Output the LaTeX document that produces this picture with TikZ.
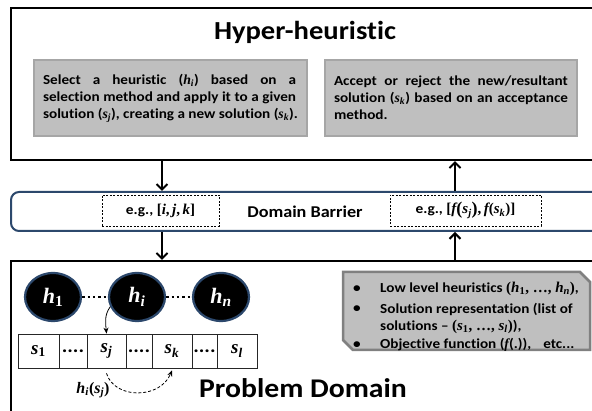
\documentclass[tikz,border=0pt]{standalone}
\usepackage{fontspec}
\setmainfont{Carlito}[FakeStretch=1.1,Ligatures=NoCommon]
\newfontfamily\mfnt{Liberation Serif}
\usetikzlibrary{arrows.meta,shapes.geometric}
\definecolor{gfill}{RGB}{191,191,191}
\definecolor{gline}{RGB}{166,166,166}
\definecolor{bline}{RGB}{128,128,128}
\definecolor{navy}{RGB}{44,72,108}
\newcommand{\justline}[2]{\makebox[#1][s]{#2}}
\newcommand{\xmi}[1]{{\mfnt\bfseries\itshape #1}}
\newcommand{\xmr}[1]{{\mfnt\bfseries #1}}
\newcommand{\xsub}[2]{\xmi{#1}\textsubscript{\xmi{#2}}}
\newcommand{\xsubd}[2]{\xmi{#1}\textsubscript{\xmr{#2}}}
\begin{document}
\begin{tikzpicture}[x=1pt,y=1pt,
  container/.style={draw=black, line width=2.2pt, fill=white, inner sep=0pt},
  graybox/.style={fill=gfill, draw=gline, line width=2pt, inner xsep=9pt, inner ysep=0pt, align=left, minimum height=76pt, font=\fontsize{13.8}{17}\selectfont\bfseries},
  dbox/.style={draw=black, line width=0.7pt, dash pattern=on 2pt off 1.5pt, minimum height=31pt, inner sep=0pt, font=\fontsize{14}{16}\selectfont\bfseries},
  arr/.style={line width=2pt, -{Straight Barb[length=5.5pt,width=11pt]}},
  hnode/.style={ellipse, fill=black, draw=navy, line width=2.2pt, minimum width=56pt, minimum height=48pt, inner sep=0pt, text=white, font=\fontsize{22}{24}\selectfont},
  dotline/.style={line width=2.4pt, dash pattern=on 2.4pt off 3pt},
  cell/.style={draw=black!85, line width=0.8pt, minimum height=34pt, inner sep=0pt, font=\fontsize{19}{20}\selectfont\bfseries},
  thinarr/.style={line width=0.8pt, -{Stealth[length=6pt,width=5pt]}},
  dasharr/.style={line width=0.8pt, dash pattern=on 3pt off 2pt, -{Stealth[length=6pt,width=5pt]}},
  btext/.style={font=\fontsize{13.8}{16}\selectfont\bfseries, inner sep=0pt}
]
\useasboundingbox (0,0) rectangle (592,411);
\fill[white] (0,0) rectangle (592,411);
\clip (0,0) rectangle (592,411);

% Hyper-heuristic container
\node[container, minimum width=594pt, minimum height=152pt] (hyper) at (308,327) {};
\node[font=\fontsize{26}{30}\selectfont\bfseries] (title) at (305,379) {Hyper-heuristic};
\node[graybox, minimum width=271pt] (selbox) at (170.5,313)
  {\justline{253pt}{Select a heuristic (\xsub{h}{i}) based on a}\\
   \justline{253pt}{selection method and apply it to a given}\\
   solution (\xsub{s}{j}), creating a new solution (\xsub{s}{k}).};
\node[graybox, minimum width=252pt] (accbox) at (451,313)
  {\justline{234pt}{Accept or reject the new/resultant}\\
   \justline{234pt}{solution (\xsub{s}{k}) based on an acceptance}\\
   method.};

% Domain barrier
\node[draw=navy, line width=2pt, rounded corners=8pt, fill=white, minimum width=594pt, minimum height=39pt] (barrier) at (308,199.5) {};
\node[font=\fontsize{16.5}{19}\selectfont\bfseries] (dbtext) at (305,199.5) {Domain Barrier};
\node[dbox, minimum width=117pt] (eg1) at (160.5,200.5)
  {e.g., {\fontsize{15}{16}\selectfont\xmr{[}\xmi{i}\xmr{,\,}\xmi{j}\xmr{,\,}\xmi{k}\xmr{]}}};
\node[dbox, minimum width=151pt] (eg2) at (465.5,200.5)
  {e.g., {\fontsize{15}{16}\selectfont\xmr{[}\xmi{f}\raisebox{-1pt}{\xmr{\fontsize{18}{18}\selectfont(}}\xsub{s}{j}\raisebox{-1pt}{\xmr{\fontsize{18}{18}\selectfont)}}\xmr{,\,}\xmi{f}\xmr{(}\xsub{s}{k}\xmr{)]}}};

% Problem domain container
\node[container, minimum width=594pt, minimum height=170pt] (problem) at (308,65) {};

% arrows between layers
\coordinate (ax) at (162,0);
\coordinate (bx) at (455,0);
\draw[arr] (hyper.south -| ax) -- (barrier.north -| ax);
\draw[arr] (barrier.south -| ax) -- (problem.north -| ax);
\draw[arr] (problem.north -| bx) -- (barrier.south -| bx);
\draw[arr] (barrier.north -| bx) -- (hyper.south -| bx);

% heuristics
\node[hnode] (h1) at (53,114) {\xsubd{h}{1}};
\node[hnode] (hi) at (137,114) {\xsub{h}{i}};
\node[hnode] (hn) at (221,114) {\xsub{h}{n}};
\draw[dotline] (h1) -- (hi);
\draw[dotline] (hi) -- (hn);

% solutions
\node[cell, minimum width=41pt] (s1) at (38.5,60) {\xsubd{s}{1}};
\node[cell, minimum width=28pt] (d1) at (73,60) {....};
\node[cell, minimum width=39pt] (sj) at (106.5,60) {\xsub{s}{j}};
\node[cell, minimum width=26pt] (d2) at (139,60) {....};
\node[cell, minimum width=40pt] (sk) at (172,60) {\xsub{s}{k}};
\node[cell, minimum width=25pt] (d3) at (204.5,60) {....};
\node[cell, minimum width=40pt] (sl) at (237,60) {\xsub{s}{l}};

\draw[thinarr] (hi.200) to[out=235,in=95] (sj.north);
\draw[dasharr] ([yshift=-5pt]sj.south) .. controls +(8,-26) and +(-12,-29) .. ([yshift=-2pt]sk.south);
\node[font=\fontsize{16}{18}\selectfont] (hlab) at (93,21) {\xsub{h}{i}\xmr{(}\xsub{s}{j}\xmr{)}};

\node[font=\fontsize{27}{30}\selectfont\bfseries] (pd) at (303,23) {Problem Domain};

% bullet box
\draw[fill=gfill, draw=bline, line width=2.5pt] (343,139) -- (580,139) -- (590,129) -- (590,61) -- (353,61) -- (343,71) -- cycle;
\node[btext] (p1) at (357,122) {•};
\node[btext] (p2) at (357,102) {•};
\node[btext] (p4) at (357,66) {•};
\node[btext, anchor=west] (b1) at (380,122) {Low level heuristics {\fontsize{15}{16}\selectfont\xmr{(}\xsubd{h}{1}\xmr{, …, }\xsub{h}{n}\xmr{)}},};
\node[btext, anchor=west] (b2) at (380,102) {Solution representation (list of};
\node[btext, anchor=west] (b3) at (380,84) {solutions – {\fontsize{15}{16}\selectfont\xmr{(}\xsubd{s}{1}\xmr{, …, }\xsub{s}{l}\xmr{)}}),};
\node[btext, anchor=west] (b4) at (380,66) {Objective function (\xmi{f}(.)),\hspace{12pt}etc...};
\end{tikzpicture}
\end{document}
